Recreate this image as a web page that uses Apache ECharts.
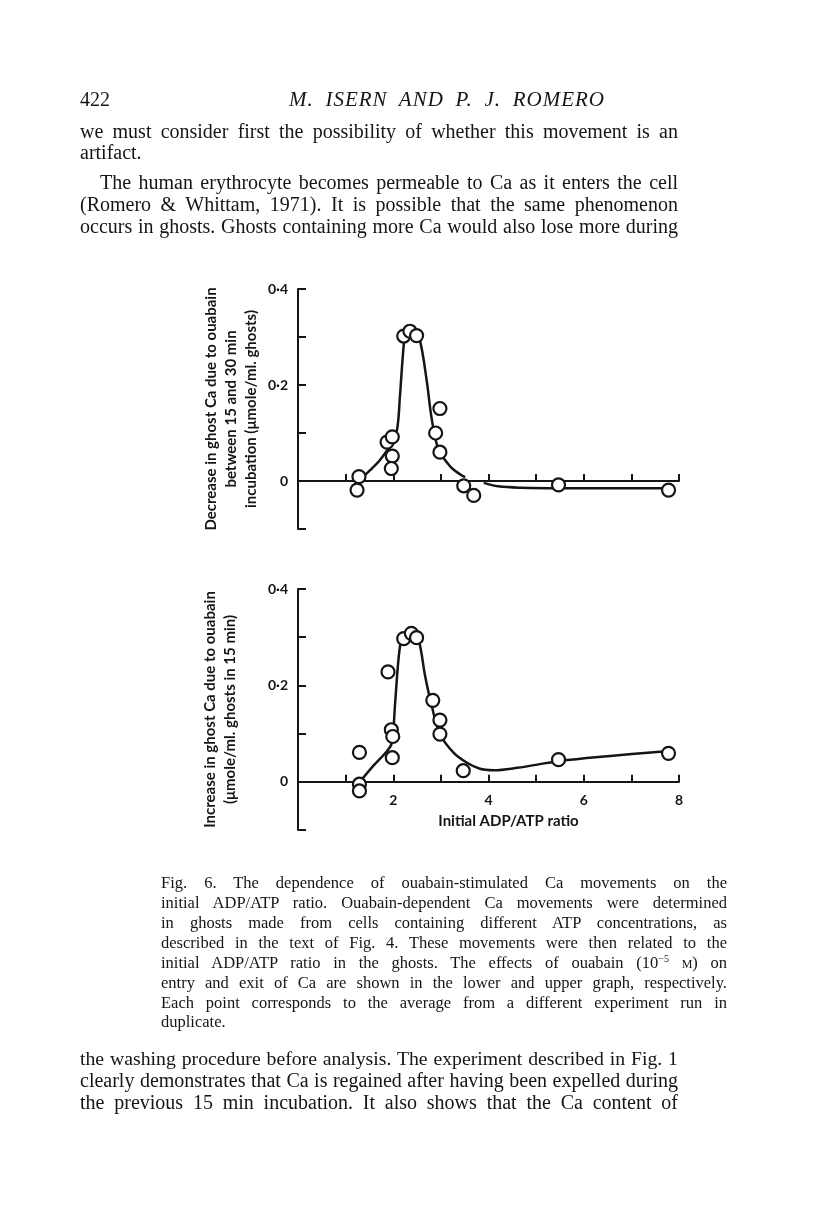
<html>
<head>
<meta charset="utf-8">
<script src="https://cdn.jsdelivr.net/npm/echarts@6/dist/echarts.min.js"></script>
<style>
  body { margin: 0; background: #fff; }
  #page { position: relative; width: 816px; height: 1212px; overflow: hidden; }
  #chart { position: absolute; left: 0; top: 0; width: 816px; height: 1212px; }
  .t { position: absolute; font-family: "Liberation Serif", "DejaVu Serif", serif; color: #151515;
       height: 22px; line-height: 22px; white-space: nowrap; }
  .body { font-size: 20px; }
  .cap { font-size: 16.5px; height: 20px; line-height: 20px; }
  .j { text-align: justify; text-align-last: justify; }
</style>
</head>
<body>
<div id="page">
  <div id="chart"></div>
  <div class="t body" style="left:80px; top:88px;">422</div>
  <div class="t body j" style="left:289px; top:88px; width:316px; font-style:italic; font-size:21px; letter-spacing:1px;">M. ISERN AND P. J. ROMERO</div>

  <div class="t body j" style="left:80px; top:120px; width:598px;">we must consider first the possibility of whether this movement is an</div>
  <div class="t body" style="left:80px; top:141px;">artifact.</div>
  <div class="t body j" style="left:100px; top:171px; width:578px;">The human erythrocyte becomes permeable to Ca as it enters the cell</div>
  <div class="t body j" style="left:80px; top:193px; width:598px;">(Romero &amp; Whittam, 1971). It is possible that the same phenomenon</div>
  <div class="t body j" style="left:80px; top:215px; width:598px;">occurs in ghosts. Ghosts containing more Ca would also lose more during</div>

  <div class="t cap j" style="left:161px; top:873px; width:566px;">Fig. 6. The dependence of ouabain-stimulated Ca movements on the</div>
  <div class="t cap j" style="left:161px; top:893px; width:566px;">initial ADP/ATP ratio. Ouabain-dependent Ca movements were determined</div>
  <div class="t cap j" style="left:161px; top:913px; width:566px;">in ghosts made from cells containing different ATP concentrations, as</div>
  <div class="t cap j" style="left:161px; top:933px; width:566px;">described in the text of Fig. 4. These movements were then related to the</div>
  <div class="t cap j" style="left:161px; top:953px; width:566px;">initial ADP/ATP ratio in the ghosts. The effects of ouabain (10<sup style="font-size:10px;line-height:0">−5</sup> <span style="font-variant:small-caps">m</span>) on</div>
  <div class="t cap j" style="left:161px; top:973px; width:566px;">entry and exit of Ca are shown in the lower and upper graph, respectively.</div>
  <div class="t cap j" style="left:161px; top:993px; width:566px;">Each point corresponds to the average from a different experiment run in</div>
  <div class="t cap" style="left:161px; top:1012px;">duplicate.</div>

  <div class="t body j" style="left:80px; top:1047px; width:598px;">the washing procedure before analysis. The experiment described in Fig. 1</div>
  <div class="t body j" style="left:80px; top:1069px; width:598px;">clearly demonstrates that Ca is regained after having been expelled during</div>
  <div class="t body j" style="left:80px; top:1091px; width:598px;">the previous 15 min incubation. It also shows that the Ca content of</div>
</div>

<script type="text/javascript">
// upper graph: decrease in ghost Ca (exit), x = initial ADP/ATP ratio
var topPoints = [
  [1.28, 0.009], [1.24, -0.019], [1.87, 0.081], [1.98, 0.092], [1.98, 0.052], [1.96, 0.026],
  [2.22, 0.302], [2.35, 0.312], [2.49, 0.303], [2.98, 0.151], [2.89, 0.100], [2.98, 0.060],
  [3.48, -0.010], [3.69, -0.030], [5.47, -0.008], [7.78, -0.019]
];
var topCurveA = [
  [1.34, 0.007], [1.55, 0.026], [1.73, 0.045], [1.97, 0.079], [2.08, 0.107], [2.14, 0.176],
  [2.20, 0.259], [2.24, 0.298], [2.30, 0.313], [2.36, 0.316], [2.45, 0.310], [2.56, 0.293],
  [2.70, 0.211], [2.81, 0.128], [2.95, 0.066], [3.19, 0.031], [3.40, 0.014], [3.51, 0.008]
];
var topCurveB = [
  [3.90, -0.004], [4.20, -0.011], [4.70, -0.014], [5.50, -0.015], [7.81, -0.015]
];

// lower graph: increase in ghost Ca (entry)
var bottomPoints = [
  [1.29, 0.061], [1.29, -0.005], [1.29, -0.019], [1.89, 0.228], [1.96, 0.108], [1.99, 0.094],
  [1.98, 0.050], [2.22, 0.297], [2.38, 0.308], [2.49, 0.299], [2.83, 0.169], [2.98, 0.128],
  [2.98, 0.099], [3.47, 0.023], [5.47, 0.046], [7.78, 0.059]
];
var bottomCurve = [
  [1.30, 0.0], [1.58, 0.033], [1.87, 0.064], [1.97, 0.081], [2.04, 0.164], [2.11, 0.254],
  [2.18, 0.299], [2.28, 0.310], [2.39, 0.311], [2.53, 0.295], [2.67, 0.219], [2.81, 0.157],
  [2.98, 0.099], [3.26, 0.061], [3.54, 0.040], [3.82, 0.027], [4.10, 0.024], [4.60, 0.029],
  [5.50, 0.043], [6.50, 0.053], [7.80, 0.064]
];

var yLabelValues = [0, 0.2, 0.4];
var xLabelValues = [2, 4, 6, 8];
var topYName = 'Decrease in ghost Ca due to ouabain\nbetween 15 and 30 min\nincubation (\u03bcmole/ml. ghosts)';
var bottomYName = 'Increase in ghost Ca due to ouabain\n(\u03bcmole/ml. ghosts in 15 min)';
var xName = 'Initial ADP/ATP ratio';

// shrink any justified line that would not fit on one line
document.querySelectorAll('.j').forEach(function (el) {
  var w = parseFloat(el.style.width);
  var span = document.createElement('span');
  while (el.firstChild) span.appendChild(el.firstChild);
  el.appendChild(span);
  el.style.textAlign = 'left';
  el.style.textAlignLast = 'left';
  var fs = parseFloat(getComputedStyle(el).fontSize);
  while (span.getBoundingClientRect().width > w - 4 && fs > 10) {
    fs -= 0.25;
    el.style.fontSize = fs + 'px';
  }
  el.style.textAlign = '';
  el.style.textAlignLast = '';
});

var ink = '#151515';
var labelFont = { fontFamily: 'Lato', fontWeight: 'bold', fontSize: 14, color: ink };

function yLabel(v) {
  for (var i = 0; i < yLabelValues.length; i++) {
    if (Math.abs(v - yLabelValues[i]) < 1e-9) {
      return yLabelValues[i] === 0 ? '0' : yLabelValues[i].toFixed(1).replace('.', '\u00b7');
    }
  }
  return '';
}
function xLabel(v) {
  return xLabelValues.indexOf(Math.round(v)) >= 0 && Math.abs(v - Math.round(v)) < 1e-9 ? String(Math.round(v)) : '';
}

function makeX(idx, showLabels) {
  return {
    type: 'value', gridIndex: idx, min: 0, max: 8, interval: 1,
    axisLine: { onZero: true, lineStyle: { color: ink, width: 2 } },
    axisTick: { inside: true, length: 7, lineStyle: { color: ink, width: 2 } },
    axisLabel: Object.assign({ show: showLabels, margin: -37, formatter: xLabel }, labelFont),
    splitLine: { show: false },
    name: showLabels ? xName : '',
    nameLocation: 'middle', nameGap: -16,
    nameTextStyle: { fontFamily: 'Lato', fontWeight: 'bold', fontSize: 15, color: ink, padding: [0, 0, 0, 40] }
  };
}
function makeY(idx, name, gap) {
  return {
    type: 'value', gridIndex: idx, min: -0.1, max: 0.4, interval: 0.1,
    axisLine: { show: true, onZero: false, lineStyle: { color: ink, width: 2 } },
    axisTick: { show: true, inside: true, length: 8, lineStyle: { color: ink, width: 2 } },
    axisLabel: Object.assign({ margin: 10, formatter: yLabel }, labelFont),
    splitLine: { show: false },
    name: name, nameLocation: 'middle', nameRotate: 90, nameGap: gap,
    nameTextStyle: { fontFamily: 'Lato', fontWeight: 'bold', fontSize: 15, color: ink, lineHeight: 20 }
  };
}

var lineStyle = { color: ink, width: 2.5 };
var dotStyle = { color: '#fff', borderColor: ink, borderWidth: 2.2, opacity: 1 };

var chart = echarts.init(document.getElementById('chart'), null, { renderer: 'canvas' });
chart.setOption({
  backgroundColor: 'transparent',
  animation: false,
  grid: [
    { left: 298, top: 289, width: 381, height: 240 },
    { left: 298, top: 589, width: 381, height: 241 }
  ],
  xAxis: [makeX(0, false), makeX(1, true)],
  yAxis: [makeY(0, topYName, 37), makeY(1, bottomYName, 58)],
  series: [
    { type: 'line', xAxisIndex: 0, yAxisIndex: 0, data: topCurveA, smooth: 0.35, showSymbol: false, lineStyle: lineStyle, z: 2 },
    { type: 'line', xAxisIndex: 0, yAxisIndex: 0, data: topCurveB, smooth: 0.35, showSymbol: false, lineStyle: lineStyle, z: 2 },
    { type: 'scatter', xAxisIndex: 0, yAxisIndex: 0, data: topPoints, symbol: 'circle', symbolSize: 13, itemStyle: dotStyle, z: 3 },
    { type: 'line', xAxisIndex: 1, yAxisIndex: 1, data: bottomCurve, smooth: 0.35, showSymbol: false, lineStyle: lineStyle, z: 2 },
    { type: 'scatter', xAxisIndex: 1, yAxisIndex: 1, data: bottomPoints, symbol: 'circle', symbolSize: 13, itemStyle: dotStyle, z: 3 }
  ]
});
</script>
</body>
</html>
